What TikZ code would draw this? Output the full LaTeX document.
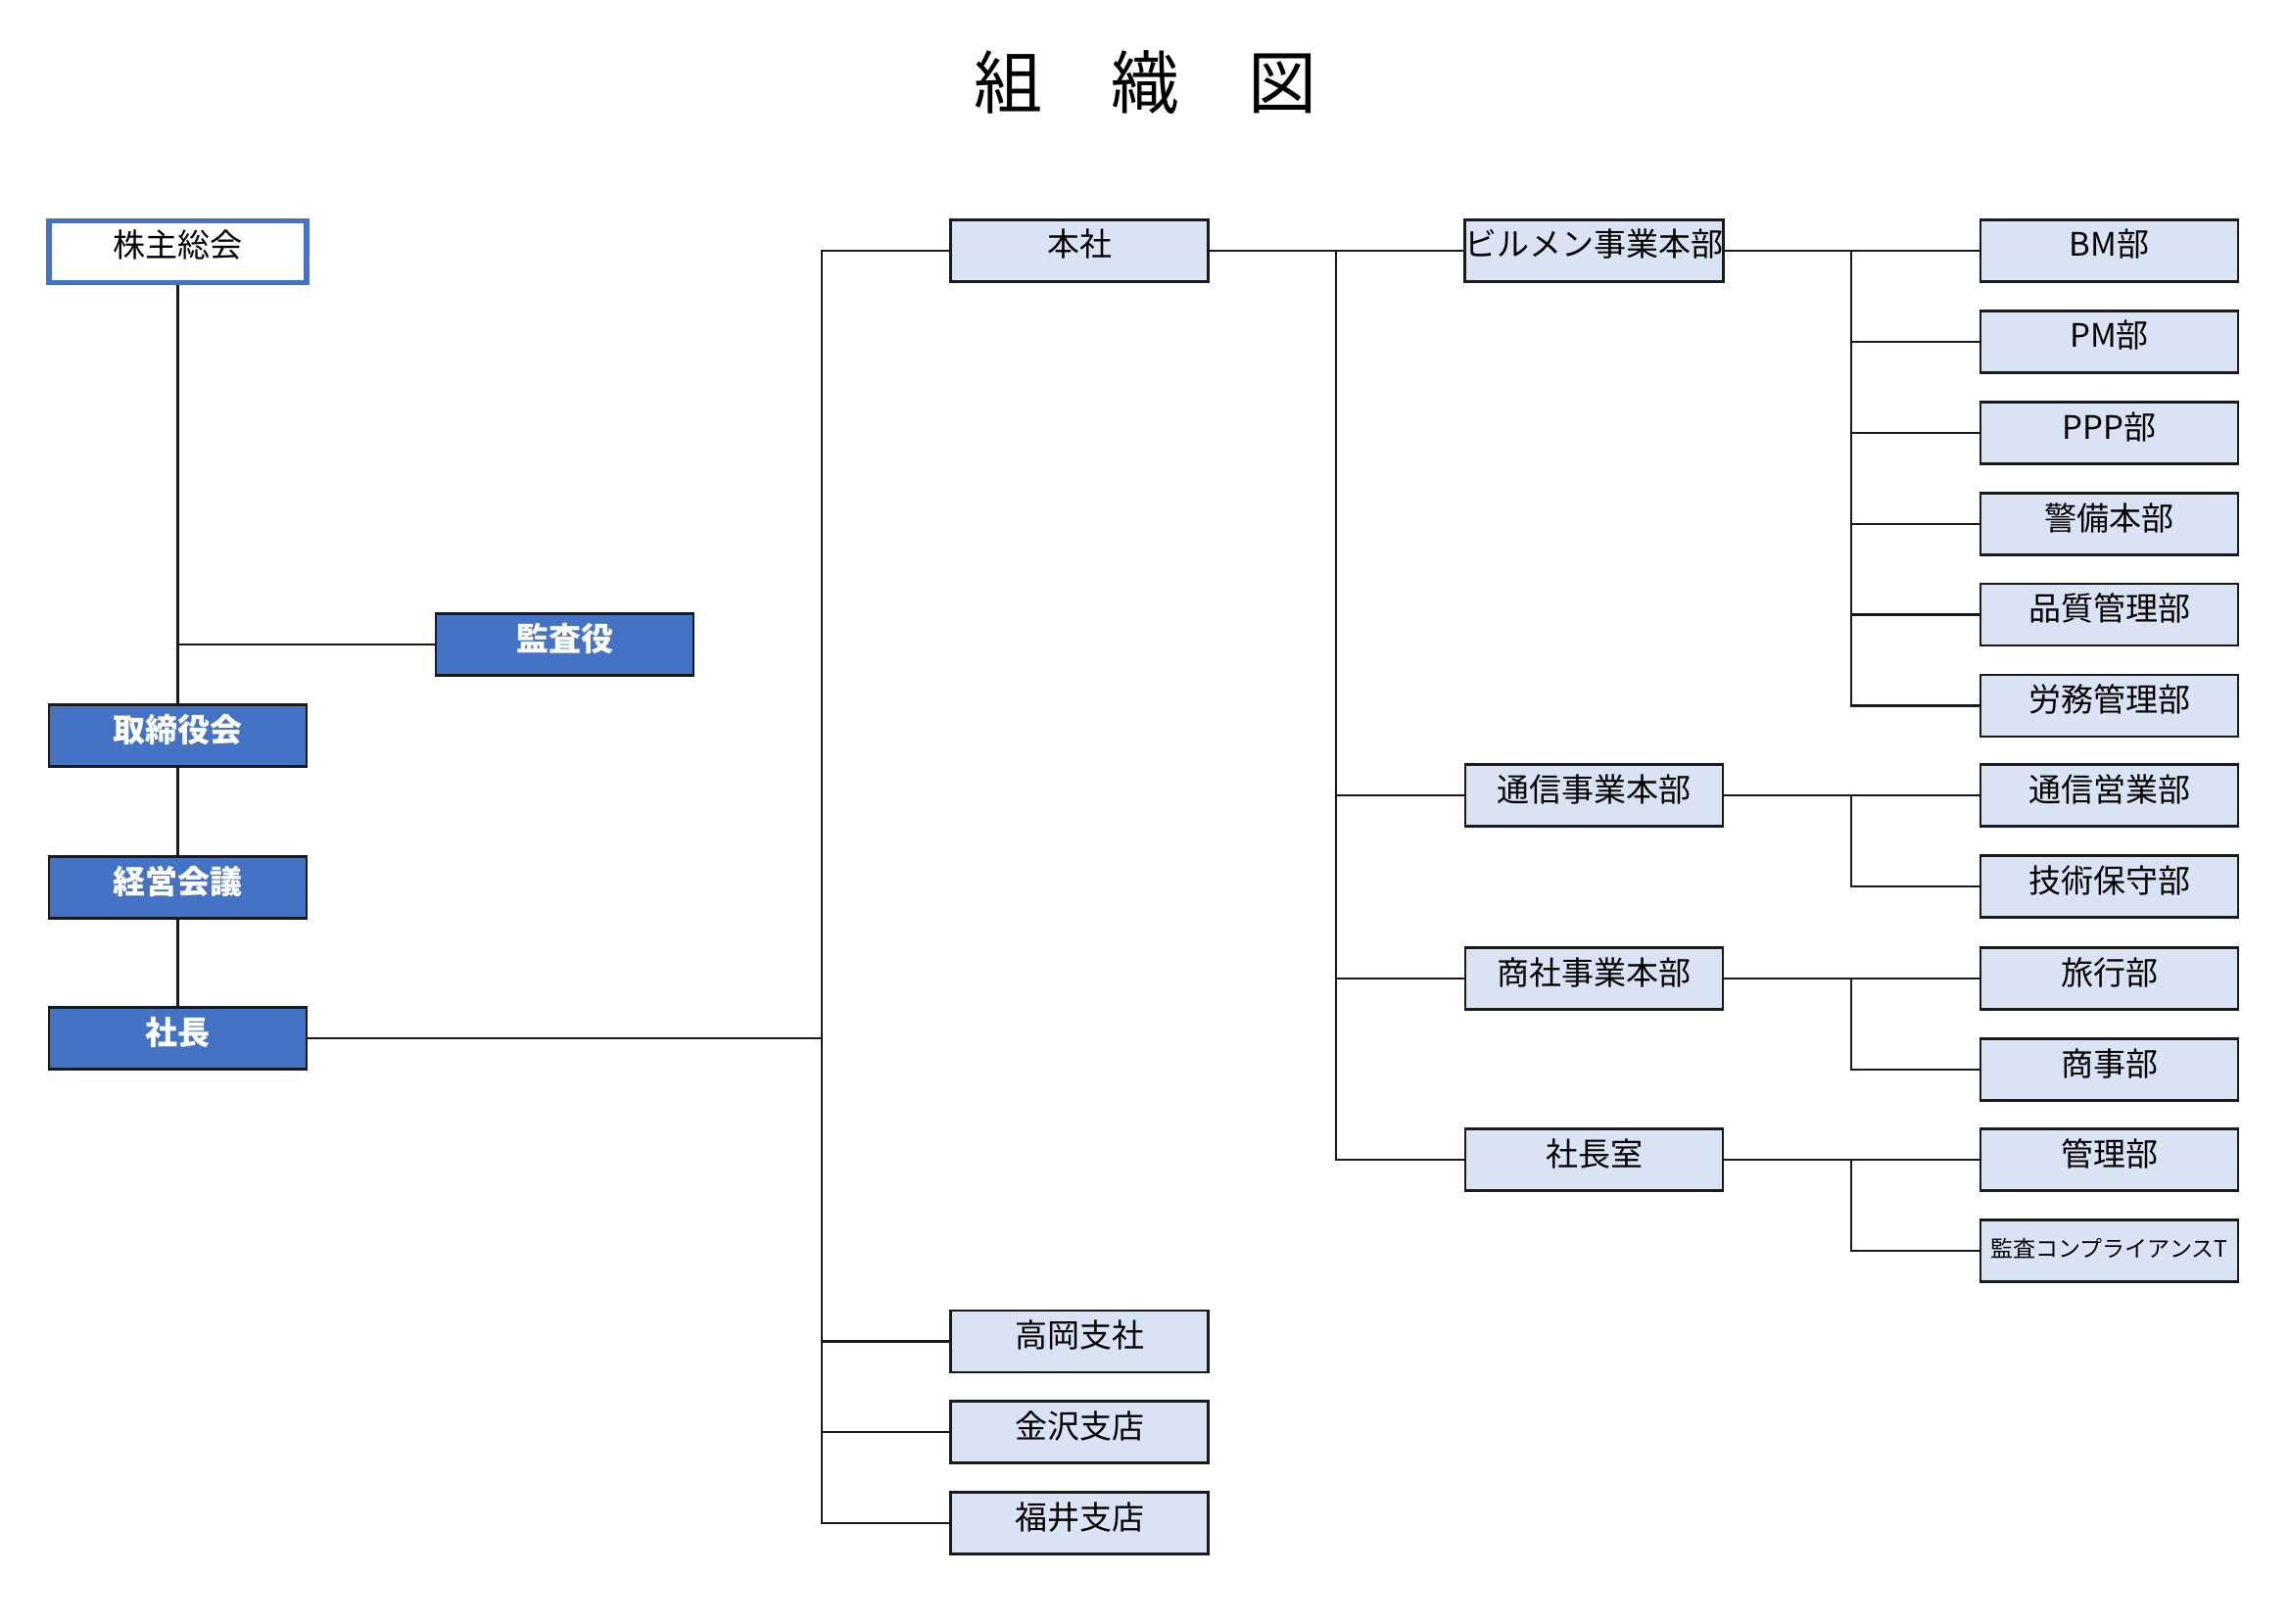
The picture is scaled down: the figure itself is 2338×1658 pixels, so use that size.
\documentclass[tikz,border=0pt]{standalone}
\usepackage{fontspec}
\setmainfont{Noto Sans CJK JP}
\definecolor{bluefill}{HTML}{4472C4}
\definecolor{lightfill}{HTML}{DAE3F3}
\definecolor{edge}{HTML}{1A1A1A}
\begin{document}
\begin{tikzpicture}[x=0.5pt,y=-0.5pt,
  box/.style={draw=edge, line width=1.4pt, minimum width=131.5pt, minimum height=31.5pt, inner sep=0pt, text height=12pt, text depth=6pt, font=\fontsize{16.5}{18}\selectfont},
  lite/.style={box, fill=lightfill, text=black},
  dark/.style={box, fill=bluefill, text=white, font=\fontsize{16.5}{18}\selectfont\bfseries},
  top/.style={box, fill=white, draw=bluefill, line width=2.6pt, text=black},
  conn/.style={line width=1.2pt, draw=edge}]
\useasboundingbox (0,0) rectangle (2338,1658);
% title
\node (title) at (1169,84) {\fontsize{35}{40}\selectfont 組　織　図};
% left column
\node[top]  (kabu)   at (181.5,257)  {株主総会};
\node[dark] (kansa)  at (576.5,658)  {監査役};
\node[dark] (tori)   at (181.5,751)  {取締役会};
\node[dark] (keiei)  at (181.5,906)  {経営会議};
\node[dark] (shacho) at (181.5,1060) {社長};
% second column
\node[lite] (honsha)   at (1102,256)    {本社};
\node[lite] (takaoka)  at (1102,1369.5) {高岡支社};
\node[lite] (kanazawa) at (1102,1462)   {金沢支店};
\node[lite] (fukui)    at (1102,1555)   {福井支店};
% third column
\node[lite] (bilmen)  at (1627.5,256)  {ビルメン事業本部};
\node[lite] (tsushin) at (1627.5,812)  {通信事業本部};
\node[lite] (shosha)  at (1627.5,999)  {商社事業本部};
\node[lite] (shitsu)  at (1627.5,1184) {社長室};
% right column
\node[lite] (bm)     at (2153.5,256)   {BM部};
\node[lite] (pm)     at (2153.5,349)   {PM部};
\node[lite] (ppp)    at (2153.5,442)   {PPP部};
\node[lite] (keibi)  at (2153.5,535)   {警備本部};
\node[lite] (hin)    at (2153.5,627.5) {品質管理部};
\node[lite] (romu)   at (2153.5,720.5) {労務管理部};
\node[lite] (tei)    at (2153.5,812)   {通信営業部};
\node[lite] (giju)   at (2153.5,905)   {技術保守部};
\node[lite] (ryoko)  at (2153.5,999)   {旅行部};
\node[lite] (shoji)  at (2153.5,1092)  {商事部};
\node[lite] (kanri)  at (2153.5,1184)  {管理部};
\node[lite, font=\fontsize{11.5}{13}\selectfont] (comp) at (2153.5,1277) {監査コンプライアンスT};
% trunk coordinates
\coordinate (ta) at (839,256);
\coordinate (tb) at (1364,256);
\coordinate (tc) at (1890,256);
\coordinate (td) at (1890,812);
\coordinate (te) at (1890,999);
\coordinate (tf) at (1890,1184);
% left connectors
\draw[conn] (kabu) -- (tori);
\draw[conn] (kansa.west) -- (kansa.west -| kabu.south);
\draw[conn] (tori) -- (keiei);
\draw[conn] (keiei) -- (shacho);
\draw[conn] (shacho.east) -- (shacho.east -| ta);
% trunk a
\draw[conn] (honsha.west) -- (ta) -- (ta |- fukui.west) -- (fukui.west);
\draw[conn] (takaoka.west) -- (takaoka.west -| ta);
\draw[conn] (kanazawa.west) -- (kanazawa.west -| ta);
% trunk b
\draw[conn] (honsha.east) -- (bilmen.west);
\draw[conn] (tb) -- (tb |- shitsu.west) -- (shitsu.west);
\draw[conn] (tsushin.west) -- (tsushin.west -| tb);
\draw[conn] (shosha.west) -- (shosha.west -| tb);
% trunk c
\draw[conn] (bilmen.east) -- (bm.west);
\draw[conn] (tc) -- (tc |- romu.west) -- (romu.west);
\draw[conn] (pm.west) -- (pm.west -| tc);
\draw[conn] (ppp.west) -- (ppp.west -| tc);
\draw[conn] (keibi.west) -- (keibi.west -| tc);
\draw[conn] (hin.west) -- (hin.west -| tc);
% trunk d
\draw[conn] (tsushin.east) -- (tei.west);
\draw[conn] (td) -- (td |- giju.west) -- (giju.west);
% trunk e
\draw[conn] (shosha.east) -- (ryoko.west);
\draw[conn] (te) -- (te |- shoji.west) -- (shoji.west);
% trunk f
\draw[conn] (shitsu.east) -- (kanri.west);
\draw[conn] (tf) -- (tf |- comp.west) -- (comp.west);
\end{tikzpicture}
\end{document}
